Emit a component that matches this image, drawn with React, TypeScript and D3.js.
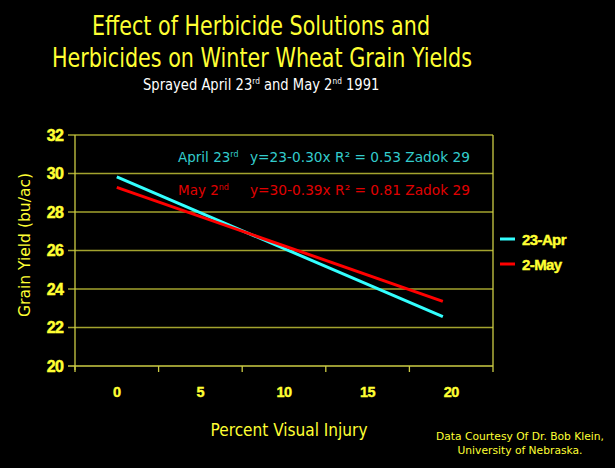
import React from "react";
import * as d3 from "d3";

const seriesNames = ["23-Apr", "2-May"];
const seriesColors = ["#33ffff", "#ff0000"];
const injuryX = [0, 19.5];
const aprYield = [29.83, 22.56];
const mayYield = [29.28, 23.36];
const yTicks = [20, 22, 24, 26, 28, 30, 32];
const xTickLabels = [0, 5, 10, 15, 20];
const xBoundaries = [-2.5, 2.5, 7.5, 12.5, 17.5, 22.5];

const W = 615;
const H = 468;
const M = { left: 75, right: 493, top: 135, bottom: 366 };
const YELLOW = "#ffff33";
const GRID = "#a3a32e";
const AXIS = "#cccc44";

export default function App() {
  const x = d3.scaleLinear().domain([-2.5, 22.5]).range([M.left, M.right]);
  const y = d3.scaleLinear().domain([20, 32]).range([M.bottom, M.top]);
  const line = d3
    .line<[number, number]>()
    .x((d) => x(d[0]))
    .y((d) => y(d[1]));
  const series = [aprYield, mayYield].map((vals) =>
    injuryX.map((v, i) => [v, vals[i]] as [number, number])
  );
  const tahoma = "'DejaVu Sans', Verdana, sans-serif";
  const arialBold = "'Liberation Sans', Arial, sans-serif";

  return (
    <svg
      width={W}
      height={H}
      style={{ position: "absolute", left: 0, top: 0, display: "block", background: "#000" }}
    >
      <rect x={0} y={0} width={W} height={H} fill="#000" />
      {/* Title */}
      <text x={261} y={35} fill={YELLOW} fontFamily={tahoma} fontSize={27} textAnchor="middle" textLength={338} lengthAdjust="spacingAndGlyphs">
        Effect of Herbicide Solutions and
      </text>
      <text x={262} y={67} fill={YELLOW} fontFamily={tahoma} fontSize={27} textAnchor="middle" textLength={420} lengthAdjust="spacingAndGlyphs">
        Herbicides on Winter Wheat Grain Yields
      </text>
      <g transform="translate(143,90) scale(0.82,1)">
        <text x={0} y={0} fill="#ffffff" fontFamily={tahoma} fontSize={16}>
          <tspan>Sprayed April 23</tspan>
          <tspan fontSize={9} dy={-6}>rd</tspan>
          <tspan dy={6}> and May 2</tspan>
          <tspan fontSize={9} dy={-6}>nd</tspan>
          <tspan dy={6}> 1991</tspan>
        </text>
      </g>

      {/* gridlines */}
      {yTicks.map((t) => (
        <g key={t}>
          <line x1={M.left - 7} x2={M.right} y1={y(t)} y2={y(t)} stroke={t === 20 ? AXIS : GRID} strokeWidth={1.3} />
          <text x={63} y={y(t) + 5.5} fill={YELLOW} fontFamily={arialBold} fontWeight="bold" fontSize={16} textAnchor="end" letterSpacing={-0.8} stroke={YELLOW} strokeWidth={0.5}>
            {t}
          </text>
        </g>
      ))}
      {/* axes */}
      <line x1={M.left} x2={M.left} y1={M.top} y2={M.bottom + 4} stroke={AXIS} strokeWidth={1.3} />
      <line x1={M.right} x2={M.right} y1={M.top} y2={M.bottom} stroke={AXIS} strokeWidth={1.3} />
      {xBoundaries.map((b) => (
        <line key={b} x1={x(b)} x2={x(b)} y1={M.bottom} y2={M.bottom + 6} stroke={AXIS} strokeWidth={1.3} />
      ))}
      {xTickLabels.map((t) => (
        <text key={t} x={x(t)} y={397} fill={YELLOW} fontFamily={arialBold} fontWeight="bold" fontSize={14.5} textAnchor="middle" letterSpacing={-0.5} stroke={YELLOW} strokeWidth={0.4}>
          {t}
        </text>
      ))}

      {/* annotations */}
      <text x={178} y={162} fill="#33cccc" fontFamily={tahoma} fontSize={13.5}>
        <tspan>April 23</tspan>
        <tspan fontSize={8} dy={-5}>rd</tspan>
      </text>
      <text x={250} y={162} fill="#33cccc" fontFamily={tahoma} fontSize={13.5} textLength={220} lengthAdjust="spacingAndGlyphs">
        y=23-0.30x R² = 0.53 Zadok 29
      </text>
      <text x={178} y={195} fill="#e00000" fontFamily={tahoma} fontSize={13.5}>
        <tspan>May 2</tspan>
        <tspan fontSize={8} dy={-5}>nd</tspan>
      </text>
      <text x={250} y={195} fill="#e00000" fontFamily={tahoma} fontSize={13.5} textLength={220} lengthAdjust="spacingAndGlyphs">
        y=30-0.39x R² = 0.81 Zadok 29
      </text>

      {/* lines */}
      {series.map((s, i) => (
        <path key={i} d={line(s) || ""} fill="none" stroke={seriesColors[i]} strokeWidth={3} />
      ))}

      {/* legend */}
      {seriesNames.map((n, i) => (
        <g key={n}>
          <line x1={500} x2={515} y1={239 + i * 25} y2={239 + i * 25} stroke={seriesColors[i]} strokeWidth={3} />
          <text x={522} y={245 + i * 25} fill={YELLOW} fontFamily={arialBold} fontWeight="bold" fontSize={15} letterSpacing={-0.6} stroke={YELLOW} strokeWidth={0.4}>
            {n}
          </text>
        </g>
      ))}

      {/* axis titles */}
      <text transform={`translate(30,${245}) rotate(-90)`} fill={YELLOW} fontFamily={tahoma} fontSize={16} textAnchor="middle" textLength={144} lengthAdjust="spacingAndGlyphs">
        Grain Yield (bu/ac)
      </text>
      <text x={289} y={436} fill={YELLOW} fontFamily={tahoma} fontSize={17} textAnchor="middle" textLength={157} lengthAdjust="spacingAndGlyphs">
        Percent Visual Injury
      </text>

      {/* credits */}
      <text x={520} y={440} fill={YELLOW} fontFamily={tahoma} fontSize={11} textAnchor="middle" textLength={168} lengthAdjust="spacingAndGlyphs">
        Data Courtesy Of Dr. Bob Klein,
      </text>
      <text x={520} y={454} fill={YELLOW} fontFamily={tahoma} fontSize={11} textAnchor="middle" textLength={125} lengthAdjust="spacingAndGlyphs">
        University of Nebraska.
      </text>
    </svg>
  );
}
